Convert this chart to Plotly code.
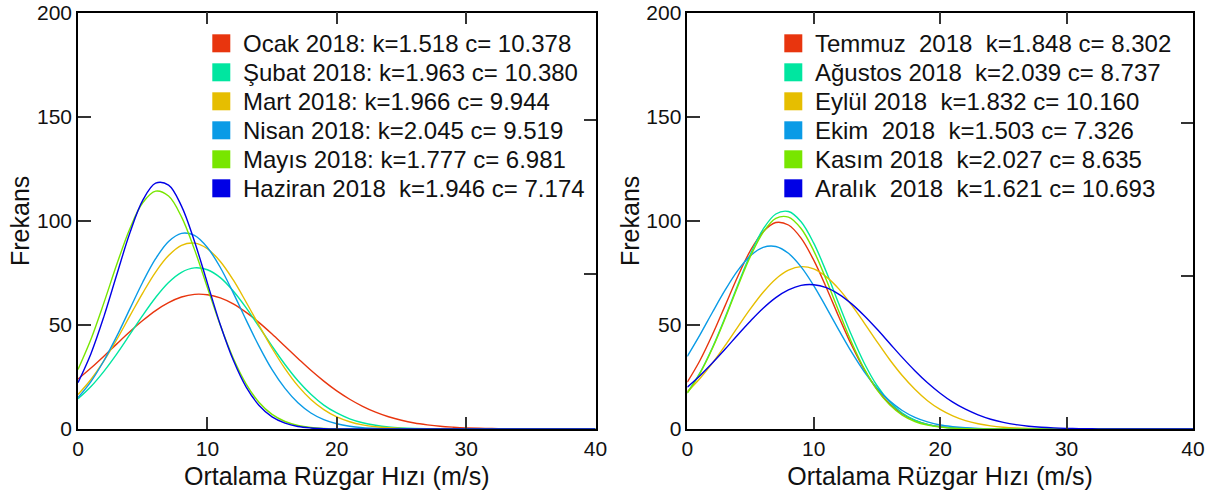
import plotly.graph_objects as go

# ---------------- data ----------------
speed = [0, 1, 2, 3, 4, 5, 6, 7, 8, 9, 10, 11, 12, 13, 14, 15, 16, 17, 18, 19,
         20, 21, 22, 23, 24, 25, 26, 27, 28, 29, 30, 31, 32, 33, 34, 35, 40]

ocak = [24.0, 29.3, 35.0, 40.9, 46.7, 52.1, 56.9, 60.7, 63.4, 64.7,
        64.5, 63.0, 60.1, 56.0, 51.1, 45.6, 39.7, 33.9, 28.2, 23.0,
        18.3, 14.3, 10.9, 8.1, 5.9, 4.2, 2.9, 2.0, 1.3, 0.87,
        0.55, 0.34, 0.21, 0.12, 0.07, 0.04, 0]
subat = [14.5, 20.4, 27.7, 36.1, 45.3, 54.6, 63.2, 70.4, 75.3, 77.4,
         76.5, 72.7, 66.3, 58.2, 49.1, 39.8, 31.0, 23.2, 16.7, 11.5,
         7.7, 4.9, 3.0, 1.8, 1.0, 0.55, 0.29, 0.14, 0.07, 0.03,
         0.01, 0, 0, 0, 0, 0, 0]
mart = [16.6, 23.8, 32.7, 43.0, 54.2, 65.3, 75.4, 83.3, 88.2, 89.3,
        86.6, 80.5, 71.6, 60.9, 49.7, 38.8, 29.0, 20.7, 14.2, 9.3,
        5.8, 3.5, 2.0, 1.1, 0.59, 0.30, 0.14, 0.06, 0.03, 0.01,
        0, 0, 0, 0, 0, 0, 0]
nisan = [15.1, 22.8, 32.8, 44.6, 57.6, 70.5, 81.8, 90.1, 94.0, 93.0,
         87.2, 77.6, 65.4, 52.3, 39.7, 28.5, 19.5, 12.6, 7.7, 4.5,
         2.5, 1.3, 0.64, 0.30, 0.13, 0.05, 0.02, 0, 0, 0,
         0, 0, 0, 0, 0, 0, 0]
mayis = [28.6, 43.1, 60.6, 79.1, 96.1, 108.7, 114.3, 111.9, 101.9, 86.3,
         68.0, 49.8, 34.0, 21.6, 12.7, 7.0, 3.6, 1.7, 0.75, 0.31,
         0.12, 0.04, 0.01, 0, 0, 0, 0, 0, 0, 0,
         0, 0, 0, 0, 0, 0, 0]
haziran = [22.3, 36.2, 54.0, 74.2, 94.0, 109.8, 118.1, 117.2, 107.1, 90.2,
           70.1, 50.1, 33.1, 20.1, 11.3, 5.8, 2.8, 1.2, 0.49, 0.18,
           0.06, 0.02, 0, 0, 0, 0, 0, 0, 0, 0,
           0, 0, 0, 0, 0, 0, 0]

temmuz = [22.5, 32.9, 45.5, 59.4, 73.4, 85.8, 94.8, 99.2, 98.0, 91.7,
          81.1, 67.9, 53.7, 40.2, 28.5, 19.1, 12.1, 7.2, 4.1, 2.2,
          1.1, 0.53, 0.24, 0.10, 0.04, 0.02, 0, 0, 0, 0,
          0, 0, 0, 0, 0, 0, 0]
agustos = [17.5, 27.0, 39.3, 53.8, 69.3, 84.1, 96.0, 103.3, 104.5, 99.6,
           89.3, 75.4, 59.9, 44.9, 31.6, 20.9, 13.1, 7.7, 4.3, 2.2,
           1.1, 0.50, 0.22, 0.09, 0.03, 0, 0, 0, 0, 0,
           0, 0, 0, 0, 0, 0, 0]
eylul = [17.9, 24.3, 31.8, 40.2, 49.1, 57.8, 65.7, 72.1, 76.3, 78.0,
         76.9, 73.1, 67.2, 59.5, 50.9, 42.0, 33.4, 25.7, 19.1, 13.6,
         9.4, 6.3, 4.0, 2.5, 1.5, 0.87, 0.48, 0.26, 0.14, 0.07,
         0.03, 0, 0, 0, 0, 0, 0]
ekim = [34.9, 45.2, 56.2, 66.8, 76.2, 83.3, 87.3, 87.7, 84.4, 77.9,
        68.9, 58.3, 47.4, 36.9, 27.5, 19.7, 13.5, 8.9, 5.6, 3.4,
        1.9, 1.1, 0.57, 0.29, 0.14, 0.07, 0.03, 0, 0, 0,
        0, 0, 0, 0, 0, 0, 0]
kasim = [17.2, 26.7, 38.9, 53.2, 68.6, 83.0, 94.5, 101.2, 101.8, 96.3,
         85.6, 71.6, 56.3, 41.6, 28.9, 18.9, 11.6, 6.7, 3.6, 1.85,
         0.89, 0.40, 0.17, 0.07, 0.03, 0, 0, 0, 0, 0,
         0, 0, 0, 0, 0, 0, 0]
aralik = [20.1, 25.6, 31.8, 38.4, 45.3, 51.9, 58.0, 63.1, 66.8, 69.0,
          69.3, 67.9, 64.7, 60.1, 54.4, 48.0, 41.2, 34.4, 28.0, 22.2,
          17.2, 12.9, 9.5, 6.8, 4.7, 3.2, 2.1, 1.35, 0.85, 0.52,
          0.31, 0.18, 0.10, 0.05, 0.03, 0.01, 0]

NB = "\u00a0"
left_labels = [
    "Ocak 2018: k=1.518 c= 10.378",
    "Şubat 2018: k=1.963 c= 10.380",
    "Mart 2018: k=1.966 c= 9.944",
    "Nisan 2018: k=2.045 c= 9.519",
    "Mayıs 2018: k=1.777 c= 6.981",
    "Haziran 2018" + NB + NB + "k=1.946 c= 7.174",
]
right_labels = [
    "Temmuz" + NB + NB + "2018" + NB + NB + "k=1.848 c= 8.302",
    "Ağustos 2018" + NB + NB + "k=2.039 c= 8.737",
    "Eylül 2018" + NB + NB + "k=1.832 c= 10.160",
    "Ekim" + NB + NB + "2018" + NB + NB + "k=1.503 c= 7.326",
    "Kasım 2018" + NB + NB + "k=2.027 c= 8.635",
    "Aralık" + NB + NB + "2018" + NB + NB + "k=1.621 c= 10.693",
]
colors = ["#E8350E", "#00E6A0", "#E6BE00", "#0A9BE6", "#78E600", "#0000E6"]

left_series = [ocak, subat, mart, nisan, mayis, haziran]
right_series = [temmuz, agustos, eylul, ekim, kasim, aralik]

x_ticks = [0, 10, 20, 30, 40]
y_ticks = [0, 50, 100, 150, 200]
x_title = "Ortalama Rüzgar Hızı (m/s)"
y_title = "Frekans"

# ---------------- figure ----------------
W, H = 1220, 498
ML, MR, MT, MB = 78, 27, 9, 69
PW, PH = W - ML - MR, H - MT - MB


def pxx(px):
    return (px - ML) / PW


def pxy(py):
    return (H - MB - py) / PH


FONT = "Arial, Liberation Sans, sans-serif"
fig = go.Figure()

for lab, ys, c in zip(left_labels, left_series, colors):
    fig.add_trace(go.Scatter(x=speed, y=ys, mode="lines", name=lab,
                             line=dict(color=c, width=1.4, shape="spline", smoothing=1.0),
                             xaxis="x", yaxis="y", showlegend=False))
for lab, ys, c in zip(right_labels, right_series, colors):
    fig.add_trace(go.Scatter(x=speed, y=ys, mode="lines", name=lab,
                             line=dict(color=c, width=1.4, shape="spline", smoothing=1.0),
                             xaxis="x2", yaxis="y2", showlegend=False))
# empty traces so the mirrored right-side tick axes exist
fig.add_trace(go.Scatter(x=[], y=[], xaxis="x", yaxis="y3", showlegend=False, hoverinfo="skip"))
fig.add_trace(go.Scatter(x=[], y=[], xaxis="x2", yaxis="y4", showlegend=False, hoverinfo="skip"))

common_x = dict(range=[0, 40], tickvals=x_ticks, ticks="inside", ticklen=12, tickwidth=1.5,
                tickcolor="#333", showline=True, linecolor="black", linewidth=1.5,
                mirror="ticks", showgrid=False, zeroline=False, automargin=True,
                ticklabeloverflow="allow",
                tickfont=dict(size=21, family=FONT, color="#111"),
                title=dict(text=x_title, font=dict(size=25, family=FONT, color="#111"), standoff=9))
common_y = dict(range=[0, 200], tickvals=y_ticks, ticks="inside", ticklen=13, tickwidth=1.5,
                tickcolor="#333", showline=True, linecolor="black", linewidth=1.5,
                mirror=True, showgrid=False, zeroline=False, automargin=True,
                ticklabeloverflow="allow",
                tickfont=dict(size=21, family=FONT, color="#111"),
                title=dict(text=y_title, font=dict(size=25, family=FONT, color="#111"), standoff=0))
side_y = dict(range=[0, 200], side="right", ticks="inside", ticklen=12, tickwidth=1.5,
              tickcolor="#333", showticklabels=False, showline=False, showgrid=False,
              zeroline=False, automargin=False)

fig.update_layout(
    width=W, height=H,
    margin=dict(l=ML, r=MR, t=MT, b=MB, autoexpand=False),
    paper_bgcolor="white", plot_bgcolor="white",
    font=dict(family=FONT, color="#111"),
    showlegend=False,
    xaxis=dict(domain=[0, pxx(595.5)], anchor="y", **common_x),
    yaxis=dict(domain=[0, pxy(12.7)], anchor="x", **common_y),
    xaxis2=dict(domain=[pxx(687.3), 1], anchor="y2", **common_x),
    yaxis2=dict(domain=[0, pxy(12.7)], anchor="x2", **common_y),
    yaxis3=dict(overlaying="y", anchor="x", tickvals=[74.3, 148.6], **side_y),
    yaxis4=dict(overlaying="y2", anchor="x2", tickvals=[73.5, 147.2], **side_y),
)

# legend boxes (swatches + texts) placed like the original
row_y = [43.3, 72.3, 101.3, 130.3, 159.3, 188.3]
shapes = []
annotations = []
for sw_x0, txt_x, labels in [(212.3, 240.5, left_labels), (784.3, 813.0, right_labels)]:
    for i, (lab, c) in enumerate(zip(labels, colors)):
        yc = row_y[i]
        shapes.append(dict(type="rect", xref="paper", yref="paper",
                           x0=pxx(sw_x0), x1=pxx(sw_x0 + 18),
                           y0=pxy(yc + 9), y1=pxy(yc - 9),
                           fillcolor=c, line=dict(width=0), layer="above"))
        annotations.append(dict(text=lab, xref="paper", yref="paper",
                                x=pxx(txt_x), y=pxy(yc), xanchor="left", yanchor="middle",
                                showarrow=False, font=dict(size=24, family=FONT, color="#111")))
fig.update_layout(shapes=shapes, annotations=annotations)

fig.write_html("out.html", config={"displayModeBar": False},
               post_script="document.body.style.margin='0px';")
